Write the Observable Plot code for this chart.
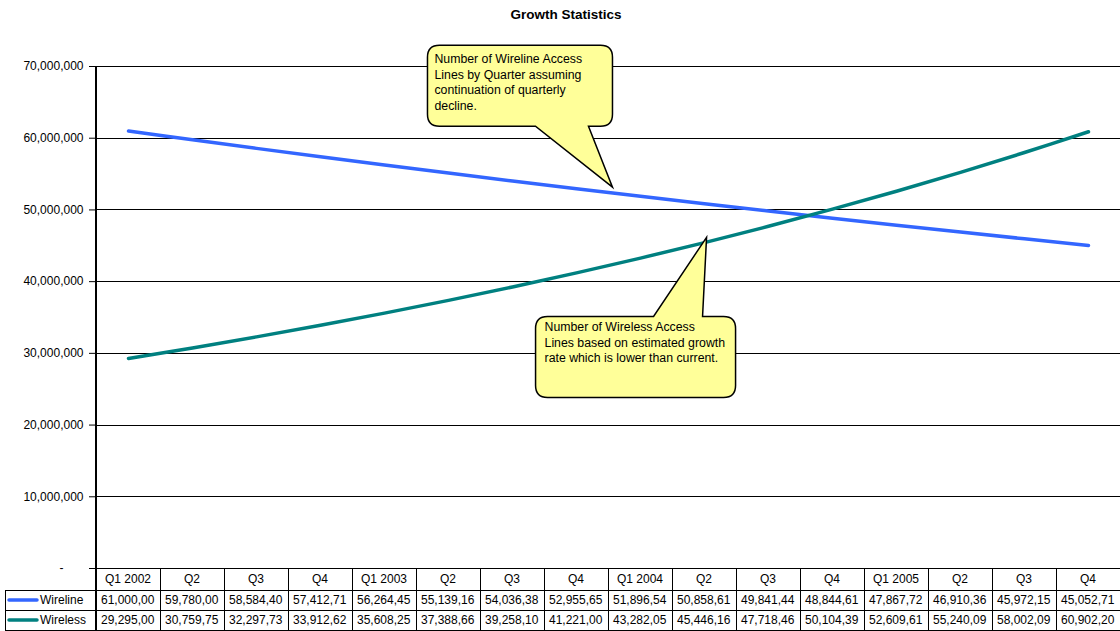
<!DOCTYPE html>
<html><head><meta charset="utf-8">
<script src="https://cdn.jsdelivr.net/npm/d3@7"></script>
<script src="https://cdn.jsdelivr.net/npm/@observablehq/plot@0.6"></script>
<style>
body{margin:0;background:#fff;}
#wrap{position:relative;width:1120px;height:631px;overflow:hidden;font-family:"Liberation Sans",Arial,sans-serif;}
#title{position:absolute;left:12px;width:1108px;top:7px;text-align:center;font-weight:bold;font-size:13.5px;z-index:2;}
#wrap svg{position:absolute;left:0;top:0;}
</style></head><body><div id="wrap"><div id="title">Growth Statistics</div></div>
<script>
const quarters = ["Q1 2002","Q2","Q3","Q4","Q1 2003","Q2","Q3","Q4","Q1 2004","Q2","Q3","Q4","Q1 2005","Q2","Q3","Q4"];
const seriesNames = ["Wireline","Wireless"];
const wireline = [61000000,59780000,58584400,57412710,56264450,55139160,54036380,52955650,51896540,50858610,49841440,48844610,47867720,46910360,45972150,45052710];
const wireless = [29295000,30759750,32297730,33912620,35608250,37388660,39258100,41221000,43282050,45446160,47718460,50104390,52609610,55240090,58002090,60902200];
const seriesColors = ["#3366FF","#008080"];
const yTicks = [0,10000000,20000000,30000000,40000000,50000000,60000000,70000000];
const noteTexts = [
  ["Number of Wireline Access","Lines by Quarter assuming","continuation of quarterly","decline."],
  ["Number of Wireless Access","Lines based on estimated growth","rate which is lower than current."]
];
const noteAnchorIndex = [7.57, 9.04];
const noteAnchorValue = [53100000, 46100000];

const rows = quarters.flatMap((q, i) => [
  {i, series: seriesNames[0], value: wireline[i]},
  {i, series: seriesNames[1], value: wireless[i]}
]);
const fmt = d3.format(",");
const font = "'Liberation Sans', Arial, sans-serif";

const plot = Plot.plot({
  width: 1120, height: 631,
  marginTop: 66, marginBottom: 63, marginLeft: 95, marginRight: 0,
  style: {fontFamily: font, fontSize: "12px", color: "#000", background: "transparent"},
  x: {type: "point", domain: quarters.map((q, i) => i), padding: 0.5, axis: null},
  y: {domain: [0, 70000000], ticks: yTicks, tickSize: 6, tickPadding: 6, label: null,
      tickFormat: d => d === 0 ? "-\u2007\u2007\u2007" : fmt(d)},
  color: {domain: seriesNames, range: seriesColors},
  marks: [
    Plot.ruleY(yTicks.filter(d => d > 0), {stroke: "#000", strokeWidth: 1, shapeRendering: "crispEdges"}),
    Plot.line(rows, {x: "i", y: "value", z: "series", stroke: "series", strokeWidth: 3.5, strokeLinecap: "round", curve: "catmull-rom"})
  ]
});
document.getElementById("wrap").appendChild(plot);

const svg = d3.select(plot);
const xs = plot.scale("x"), ys = plot.scale("y");
const X = i => xs.apply(i);
const Y = v => ys.apply(v);
const step = X(1) - X(0);
const left = X(0) - step / 2;
const right = X(quarters.length - 1) + step / 2;
const y0 = Y(0), yTop = Y(70000000);

// y axis line
svg.append("line").attr("x1", left).attr("x2", left).attr("y1", yTop).attr("y2", 631)
  .attr("stroke", "#000").attr("stroke-width", 2);

// data table
const tb = svg.append("g").attr("font-family", font).attr("font-size", 12).attr("fill", "#000").attr("text-anchor", "start");
const rH = [y0, y0 + 22, y0 + 42, y0 + 62];
const legendLeft = 5;
const gl = tb.append("g").attr("stroke", "#000").attr("stroke-width", 1).attr("shape-rendering", "crispEdges");
gl.append("line").attr("x1", left).attr("x2", right).attr("y1", rH[0]).attr("y2", rH[0]);
for (let k = 1; k < 4; k++) gl.append("line").attr("x1", legendLeft).attr("x2", right).attr("y1", rH[k]).attr("y2", rH[k]);
gl.append("line").attr("x1", legendLeft).attr("x2", legendLeft).attr("y1", rH[1]).attr("y2", rH[3]);
for (let i = 1; i <= quarters.length; i++) {
  const xx = X(0) + (i - 0.5) * step;
  gl.append("line").attr("x1", xx).attr("x2", xx).attr("y1", rH[0]).attr("y2", rH[3]);
}
quarters.forEach((q, i) => {
  tb.append("text").attr("x", X(i)).attr("y", rH[0] + 15).attr("text-anchor", "middle").text(q);
});
[wireline, wireless].forEach((arr, s) => {
  const yb = rH[s + 1] + 14;
  tb.append("line").attr("x1", 9).attr("x2", 37).attr("y1", rH[s + 1] + 10).attr("y2", rH[s + 1] + 10)
    .attr("stroke", seriesColors[s]).attr("stroke-width", 3.5).attr("stroke-linecap", "round");
  tb.append("text").attr("x", 40).attr("y", yb).text(seriesNames[s]);
  arr.forEach((v, i) => {
    // Excel clips the overflowing last digit of each cell
    tb.append("text").attr("x", X(i) - step / 2 + 5).attr("y", yb).text(fmt(v).slice(0, 9));
  });
});

// callouts
function calloutPath(x0, y0b, x1, y1, r, side, a, b, tx, ty) {
  let p = `M${x0 + r},${y0b}`;
  if (side === "top") p += `L${a},${y0b}L${tx},${ty}L${b},${y0b}`;
  p += `L${x1 - r},${y0b}Q${x1},${y0b} ${x1},${y0b + r}L${x1},${y1 - r}Q${x1},${y1} ${x1 - r},${y1}`;
  if (side === "bottom") p += `L${b},${y1}L${tx},${ty}L${a},${y1}`;
  p += `L${x0 + r},${y1}Q${x0},${y1} ${x0},${y1 - r}L${x0},${y0b + r}Q${x0},${y0b} ${x0 + r},${y0b}Z`;
  return p;
}
const boxes = [
  {dx: -185, dy: -142, w: 185, h: 81, side: "bottom", a: -77, b: -24, pad: 7, base: 18},
  {dx: -171, dy: 79, w: 200, h: 81, side: "top", a: -53, b: -4, pad: 9, base: 15}
];
noteTexts.forEach((lines, n) => {
  const tx = X(0) + noteAnchorIndex[n] * step, ty = Y(noteAnchorValue[n]);
  const bx = boxes[n];
  const x0 = tx + bx.dx, yb = ty + bx.dy;
  svg.append("path")
    .attr("d", calloutPath(x0, yb, x0 + bx.w, yb + bx.h, 12, bx.side, tx + bx.a, tx + bx.b, tx, ty))
    .attr("fill", "#FFFF99").attr("stroke", "#000").attr("stroke-width", 1.5);
  const t = svg.append("text").attr("font-family", font).attr("font-size", 12.3).attr("fill", "#000").attr("text-anchor", "start");
  lines.forEach((l, k) => t.append("tspan").attr("x", x0 + bx.pad).attr("y", yb + bx.base + k * 15.5).text(l));
});
</script></body></html>
